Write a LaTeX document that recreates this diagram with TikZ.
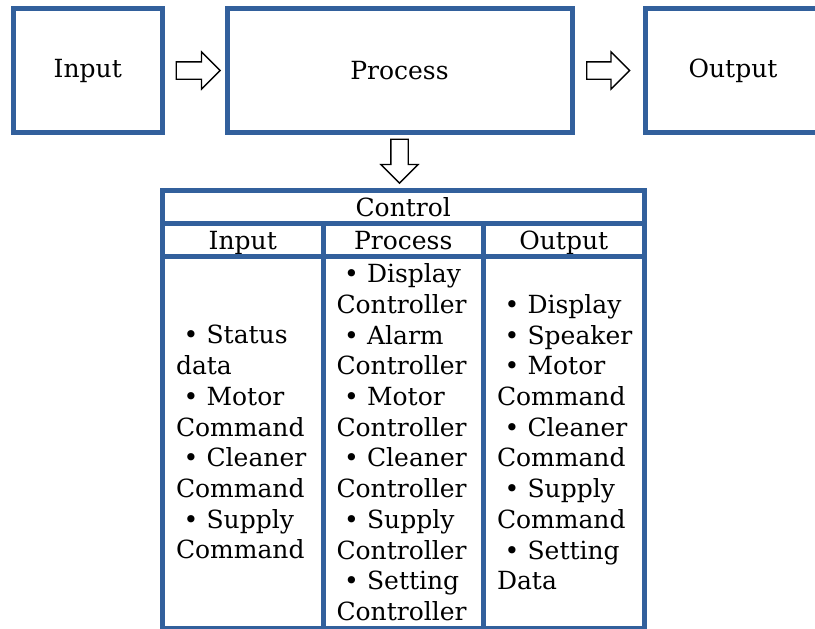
\documentclass[tikz,border=0pt]{standalone}
\usepackage{fontspec}
\setmainfont{DejaVu Serif}
\usetikzlibrary{shapes.arrows,calc}

\definecolor{boxblue}{RGB}{50,96,156}
\newcommand{\itm}{\hspace*{0.3em}\textbullet~}

\begin{document}
\begin{tikzpicture}[x=1pt,y=-1pt,
  font=\fontsize{25}{30.7}\selectfont,
  blk/.style={draw=boxblue,line width=5pt,minimum height=124,inner sep=0pt},
  cell/.style={draw=boxblue,line width=5pt,inner sep=0pt,outer sep=0pt,minimum width=160.5},
  head/.style={cell,minimum height=33,text height=24pt,text depth=6pt},
  col/.style={cell,minimum height=371.5,text width=133.5,inner xsep=13.5pt,align=left},
  fat/.style={single arrow,draw=black,fill=white,line width=1.3pt,inner xsep=0pt,inner ysep=8pt,
    single arrow head extend=10pt,minimum height=44,anchor=tail}]

\useasboundingbox (0,0) rectangle (815,629);

% top row
\node[blk,minimum width=148.5] (in) at (87.75,70.5) {Input};
\node[blk,minimum width=345] (pr) at (399.5,70.5) {Process};
\node[blk,minimum width=176] (out) at (733,70.5) {Output};

% control table
\node[head,minimum width=481.5] (ctl) at (403.25,207) {Control};
\node[head] (hin) at (242.75,240) {Input};
\node[head] (hpr) at (403.25,240) {Process};
\node[head] (hout) at (563.75,240) {Output};

\node[col] (cin) at (242.75,442.25) {\itm Status\\data\\\itm Motor\\Command\\\itm Cleaner\\Command\\\itm Supply\\Command};
\node[col] (cpr) at (403.25,442.25) {\itm Display\\Controller\\\itm Alarm\\Controller\\\itm Motor\\Controller\\\itm Cleaner\\Controller\\\itm Supply\\Controller\\\itm Setting\\Controller};
\node[col] (cout) at (563.75,442.25) {\itm Display\\\itm Speaker\\\itm Motor\\Command\\\itm Cleaner\\Command\\\itm Supply\\Command\\\itm Setting\\Data};

% block arrows
\node[fat] (a1) at ($(in.east)+(11,0)$) {};
\node[fat,minimum height=43] (a2) at ($(pr.east)+(11.5,0)$) {};
\node[fat,shape border rotate=270,inner xsep=8pt,inner ysep=0pt] (a3) at ($(pr.south)+(0,3.5)$) {};
\end{tikzpicture}
\end{document}
